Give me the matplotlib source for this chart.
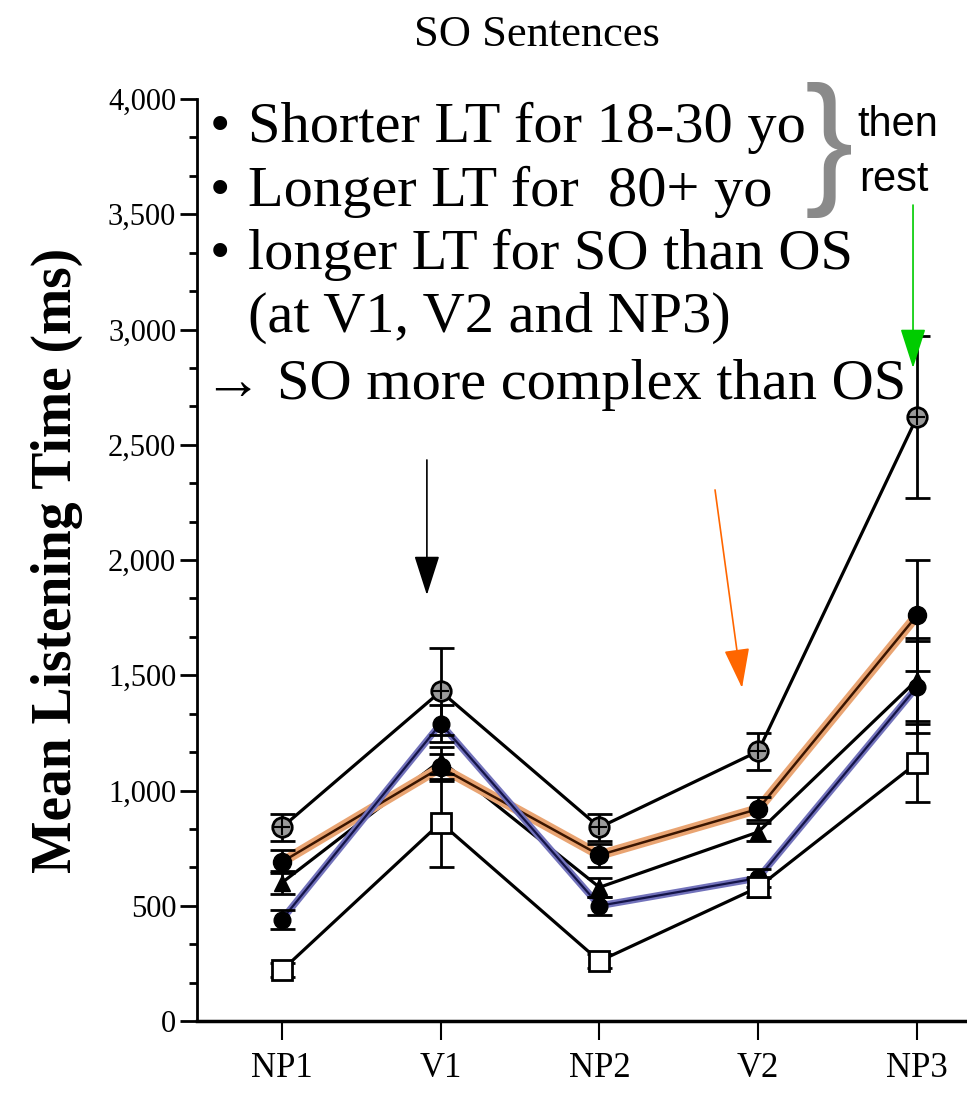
import numpy as np
import matplotlib
matplotlib.use("Agg")
import matplotlib.pyplot as plt
from matplotlib.ticker import MultipleLocator, FuncFormatter

# valores (ms)
segmentos = ["NP1", "V1", "NP2", "V2", "NP3"]
grupoA = [840, 1430, 840, 1170, 2620]      # circulo con cruz
errA = [60, 190, 60, 80, 350]
grupoB = [690, 1100, 720, 920, 1760]       # circulo lleno, linea naranja
errB = [50, 60, 50, 50, 240]
grupoC = [600, 1130, 580, 820, 1480]       # triangulo lleno
errC = [50, 60, 40, 40, 180]
grupoD = [440, 1290, 500, 620, 1450]       # circulo lleno, linea azul
errD = [40, 80, 40, 40, 200]
grupoE = [220, 860, 260, 580, 1120]        # cuadrado abierto
errE = [30, 190, 30, 40, 170]

serif = "Liberation Serif"
plt.rcParams["font.family"] = [serif, "DejaVu Serif"]

W, H = 967, 1099
fig = plt.figure(figsize=(W / 100, H / 100), dpi=100)
ax = fig.add_axes([197 / W, 1 - 1021 / H, 1 - 197 / W, (1021 - 99) / H])

x = np.arange(len(segmentos))

# lineas negras
for y in (grupoA, grupoC, grupoE):
    ax.plot(x, y, color="black", lw=2.3, zorder=2)
# linea naranja
ax.plot(x, grupoB, color="#e9a472", lw=7, zorder=2)
ax.plot(x, grupoB, color="#3a1500", lw=1.8, zorder=2)
# linea azul
ax.plot(x, grupoD, color="#7272bb", lw=5, zorder=2)
ax.plot(x, grupoD, color="#141448", lw=1.6, zorder=2)

for y, e in [(grupoA, errA), (grupoB, errB), (grupoC, errC), (grupoD, errD), (grupoE, errE)]:
    ax.errorbar(x, y, yerr=e, color="black", lw=0, elinewidth=2,
                capsize=9, capthick=2, zorder=3)

ax.plot(x, grupoA, "o", ms=14, mfc="#9a9a9a", mec="black", mew=2, zorder=4)
ax.plot(x, grupoA, "+", ms=12, color="black", mew=1.5, zorder=5)
ax.plot(x, grupoB, "o", ms=13, color="black", zorder=4)
ax.plot(x, grupoC, "^", ms=11, color="black", zorder=4)
ax.plot(x, grupoD, "o", ms=12, color="black", zorder=4)
ax.plot(x, grupoE, "s", ms=14, mfc="white", mec="black", mew=2, zorder=4)

ax.set_xlim(-0.535, 4.315)
ax.set_ylim(0, 4000)
ax.spines["top"].set_visible(False)
ax.spines["right"].set_visible(False)
ax.spines["left"].set_linewidth(2)
ax.spines["bottom"].set_linewidth(2.5)
ax.set_xticks(x)
ax.set_xticklabels(segmentos)
ax.yaxis.set_major_locator(MultipleLocator(500))
ax.yaxis.set_minor_locator(MultipleLocator(500 / 3))
ax.yaxis.set_major_formatter(FuncFormatter(lambda v, p: f"{int(v):,}"))
ax.tick_params(axis="y", which="major", length=12, width=2, pad=3, labelsize=22)
ax.tick_params(axis="y", which="minor", length=6, width=2)
ax.tick_params(axis="x", length=14, width=1.5, pad=8, labelsize=25)
ax.set_ylabel("Mean Listening Time (ms)", fontsize=40,
              fontweight="bold", labelpad=18)

fig.text(537 / W, 1 - 35 / H, "SO Sentences", ha="center", va="center",
         fontsize=32)

# texto de la diapositiva
lineas = [(210, 128, "•"), (248, 128, "Shorter LT for 18-30 yo"),
          (210, 192, "•"), (248, 192, "Longer LT for  80+ yo"),
          (210, 255, "•"), (248, 255, "longer LT for SO than OS"),
          (248, 318, "(at V1, V2 and NP3)"),
          (204, 385, "→ SO more complex than OS")]
for px, py, s in lineas:
    fig.text(px / W, 1 - py / H, s, ha="left", va="center", fontsize=42)

fig.text(829 / W, 1 - 150 / H, "}", ha="center", va="center",
         fontfamily="Liberation Sans", fontsize=105, color="#8a8a8a")
fig.text(898 / W, 1 - 125 / H, "then", ha="center", va="center",
         fontfamily="Liberation Sans", fontsize=30)
fig.text(894 / W, 1 - 180 / H, "rest", ha="center", va="center",
         fontfamily="Liberation Sans", fontsize=30)

estilo = "-|>,head_length=1.25,head_width=0.4"
ax.annotate("", xy=(0.913, 1848), xytext=(0.913, 2434),
            arrowprops=dict(arrowstyle=estilo, mutation_scale=20, lw=1.2,
                            color="black", shrinkA=0, shrinkB=0))
ax.annotate("", xy=(2.898, 1445), xytext=(2.728, 2304),
            arrowprops=dict(arrowstyle=estilo, mutation_scale=20, lw=1.2,
                            color="#ff6600", shrinkA=0, shrinkB=0))
ax.annotate("", xy=(3.975, 2833), xytext=(3.975, 3540),
            arrowprops=dict(arrowstyle=estilo, mutation_scale=20, lw=1.2,
                            color="#00cc00", shrinkA=0, shrinkB=0),
            annotation_clip=False)

fig.savefig("out.png", dpi=100)
